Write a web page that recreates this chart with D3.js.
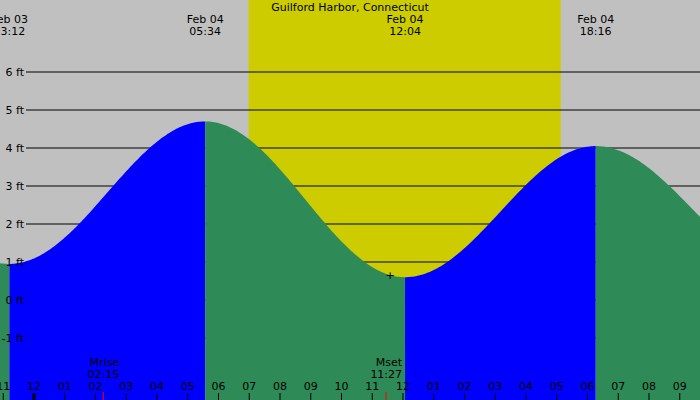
<!DOCTYPE html><html><head><meta charset="utf-8">
<script src="https://cdn.jsdelivr.net/npm/d3@7"></script>
<style>body{margin:0}svg{display:block;font-family:"DejaVu Sans",sans-serif;font-size:11px}</style></head><body>
<script>
// hours relative to Feb 04 00:00
const extremeHours=[-7.2,-0.8,5.567,12.067,18.267,24.6];
const extremeFeet=[4.3,0.95,4.7,0.6,4.05,0.7];
const extremeDates=["Feb 03","Feb 03","Feb 04","Feb 04","Feb 04","Feb 05"];
const extremeTimes=["16:48","23:12","05:34","12:04","18:16","00:36"];
const sunHours=[6.98,17.13];
const moonHours=[2.25,11.45];
const moonNames=["Mrise","Mset"];
const moonTimes=["02:15","11:27"];
const feetTicks=[-1,0,1,2,3,4,5,6];
const hourTicks=d3.range(-1,22);

const W=700,H=400;
const x=d3.scaleLinear().domain([0,12]).range([34,403]);
const y=d3.scaleLinear().domain([0,6]).range([300,72]);
const svg=d3.select("body").append("svg").attr("width",W).attr("height",H);
svg.append("rect").attr("width",W).attr("height",H).attr("fill","#c0c0c0");
svg.append("rect").attr("x",x(sunHours[0])).attr("width",x(sunHours[1])-x(sunHours[0])).attr("y",0).attr("height",H).attr("fill","#cccc00");
feetTicks.forEach(f=>svg.append("line").attr("x1",26).attr("x2",W).attr("y1",y(f)).attr("y2",y(f)).attr("stroke","#000"));
const h0=x.invert(0),h1=x.invert(W);
for(let i=0;i<extremeHours.length-1;i++){
  const a=extremeHours[i],b=extremeHours[i+1],fa=extremeFeet[i],fb=extremeFeet[i+1];
  const pts=[];
  for(let t=Math.max(a,h0);t<=Math.min(b,h1)+0.05;t+=0.05){
    const tt=Math.min(t,b);const p=(tt-a)/(b-a);
    pts.push([tt,fa+(fb-fa)*(1-Math.cos(Math.PI*p))/2]);
  }
  if(pts.length<2)continue;
  const area=d3.area().x(d=>x(d[0])).y0(H).y1(d=>y(d[1]));
  svg.append("path").attr("d",area(pts)).attr("fill",fb>fa?"#0000ff":"#2e8b57");
}
feetTicks.forEach(f=>svg.append("text").attr("x",24).attr("y",y(f)+4).attr("text-anchor","end").text(f+" ft"));
svg.append("text").attr("x",350).attr("y",11).attr("text-anchor","middle").text("Guilford Harbor, Connecticut");
extremeHours.forEach((h,i)=>{
  if(x(h)<-20||x(h)>W+20)return;
  const g=svg.append("g").attr("text-anchor","middle");
  g.append("text").attr("x",x(h)).attr("y",23).text(extremeDates[i]);
  g.append("text").attr("x",x(h)).attr("y",35).text(extremeTimes[i]);
});
svg.append("text").attr("x",390).attr("y",279).attr("text-anchor","middle").text("+");
moonHours.forEach((h,i)=>{
  const g=svg.append("g").attr("text-anchor","end");
  g.append("text").attr("x",x(h)+16).attr("y",366).text(moonNames[i]);
  g.append("text").attr("x",x(h)+16).attr("y",378).text(moonTimes[i]);
  svg.append("line").attr("x1",x(h)).attr("x2",x(h)).attr("y1",392).attr("y2",400).attr("stroke","#ff0000");
});
hourTicks.forEach(h=>{
  const lab=String(((h%12)+12)%12||12).padStart(2,"0");
  svg.append("text").attr("x",x(h)).attr("y",390).attr("text-anchor","middle").text(lab);
  svg.append("line").attr("x1",x(h)).attr("x2",x(h)).attr("y1",393).attr("y2",400).attr("stroke","#000").attr("stroke-width",h%24===0?3:1);
});
</script></body></html>
